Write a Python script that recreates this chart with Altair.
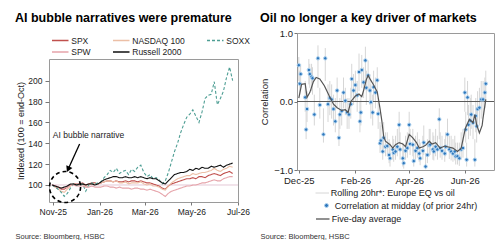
import altair as alt
import pandas as pd

FONT = "Liberation Sans"

# ---------------- Left panel data (every 4 days from 31 Oct 2025) ----------------
left_start = "2025-10-31"
series_names = ["SPX", "NASDAQ 100", "SOXX", "SPW", "Russell 2000"]
series_colors = ["#c0504d", "#ecbfa6", "#4e9e94", "#e6a4aa", "#111111"]
series_dash = [[1, 0], [1, 0], [3, 2], [1, 0], [1, 0]]

spx = [100, 99, 98, 96, 96, 98, 100, 101, 101, 101,
       102, 100, 101, 102, 102, 101, 102, 103, 104, 104,
       103, 104, 103, 103, 104, 103, 104, 104, 103, 104,
       103, 102, 102, 101, 100, 99, 97, 96, 99, 101,
       102, 103, 104, 105, 106, 106, 107, 106, 108, 108,
       107, 109, 110, 111, 110, 109, 111, 112, 113, 111]
ndx = [100, 98, 96, 94, 93, 96, 99, 101, 100, 100,
       101, 98, 100, 101, 101, 101, 102, 103, 104, 104,
       103, 104, 102, 102, 103, 101, 102, 102, 102, 103,
       101, 100, 101, 99, 99, 98, 96, 95, 99, 102,
       104, 106, 107, 108, 109, 109, 111, 110, 111, 112,
       112, 113, 114, 116, 114, 113, 115, 116, 118, 117]
soxx = [100, 98, 96, 93, 89, 92, 97, 101, 100, 99,
        101, 94, 100, 102, 101, 102, 103, 107, 110, 114,
        112, 116, 111, 113, 114, 110, 115, 113, 117, 119,
        112, 108, 110, 106, 107, 105, 101, 104, 112, 122,
        132, 140, 150, 158, 165, 168, 172, 166, 160, 170,
        183, 186, 187, 199, 177, 183, 190, 203, 213, 200]
spw = [100, 99, 98, 97, 97, 98, 100, 100, 99, 99,
       99, 98, 98, 99, 98, 98, 98, 99, 99, 98,
       98, 97, 98, 97, 97, 97, 96, 97, 97, 96,
       96, 95, 96, 95, 94, 93, 91, 89, 92, 94,
       95, 96, 97, 98, 99, 99, 100, 100, 101, 102,
       102, 103, 104, 105, 104, 104, 106, 107, 108, 108]
rty = [100, 99, 98, 97, 98, 99, 101, 101, 100, 101,
       101, 100, 101, 101, 100, 101, 103, 105, 106, 107,
       108, 108, 107, 107, 108, 107, 107, 108, 107, 108,
       107, 106, 107, 106, 106, 104, 102, 101, 104, 107,
       110, 111, 112, 112, 113, 115, 114, 116, 115, 117,
       116, 116, 118, 117, 118, 119, 117, 119, 120, 121]

left_ticks = [(2025, 11), (2026, 1), (2026, 3), (2026, 5), (2026, 7)]
left_yticks = [100, 120, 140, 160, 180, 200]

# annotation (data coordinates)
circle_date = ["2025-11-17"]
circle_value = [98.1]
arrow_dates = ["2025-12-06", "2025-11-21"]
arrow_values = [139.3, 115.1]
head_date = ["2025-11-21"]
head_value = [115.1]
note_date = ["2025-11-01"]
note_value = [144.6]
note_text = ["AI bubble narrative"]

# ---------------- Right panel data (days after 1 Dec 2025) ----------------
right_start = "2025-12-01"
dot_days = [0, 1, 2, 7, 8, 9, 11, 12, 14, 15,
            17, 21, 23, 27, 29, 32, 34, 36, 38, 40,
            42, 44, 45, 47, 49, 51, 53, 55, 57, 58,
            60, 62, 64, 66, 67, 68, 69, 71, 73, 74,
            76, 78, 79, 81, 82, 84, 86, 87, 89, 90,
            92, 93, 95, 97, 99, 100, 103, 104, 106, 108,
            110, 111, 114, 115, 117, 119, 121, 122, 125, 126,
            128, 130, 132, 133, 136, 137, 139, 141, 143, 144,
            147, 148, 150, 152, 154, 155, 157, 160, 161, 163,
            165, 167, 169, 171, 172, 174, 176, 178, 180, 182,
            183, 184, 185, 186, 188, 189, 191, 193, 194, 195,
            196, 198, 200, 202, 204, 205]
dot_vals = [0.53, 0.26, 0.40, 0.06, -0.41, -0.11, 0.46, 0.40, 0.36, 0.34,
            -0.19, 0.63, -0.05, -0.48, 0.63, -0.04, 0.05, 0.03, -0.11, -0.29,
            0.16, -0.53, -0.19, -0.14, 0.13, 0.01, -0.16, -0.19, -0.04, 0.33,
            0.16, 0.24, 0.09, 0.43, -0.29, -0.16, 0.46, 0.28, 0.60, 0.20,
            0.38, 0.16, -0.01, -0.16, 0.21, 0.13, 0.31, -0.18, -0.61, -0.57,
            -0.73, -0.53, -0.66, -0.65, -0.78, -0.83, -0.70, -0.75, -0.73, -0.66,
            -0.34, -0.70, -0.83, -0.90, -0.72, -0.68, -0.34, -0.62, -0.63, -0.87,
            -0.72, -0.68, -0.76, -0.83, -0.72, -0.60, -0.95, -0.78, -0.64, -0.63,
            -0.70, -0.73, -0.66, -0.70, -0.26, -0.68, -0.72, -0.76, -0.66, -0.48,
            -0.70, -0.73, -0.76, -0.73, -0.80, -0.80, -0.83, -0.70, -0.68, 0.13,
            -0.41, -0.85, 0.06, -0.34, -0.28, -0.19, -0.31, -0.85, -0.21, -0.36,
            -0.11, -0.09, 0.03, 0.03, 0.13, 0.26]
dot_lo = [0.30, 0.10, 0.20, -0.15, -0.55, -0.30, 0.25, 0.20, 0.15, 0.10,
          -0.35, 0.20, -0.25, -0.60, 0.30, -0.30, -0.20, -0.25, -0.35, -0.45,
          -0.10, -0.65, -0.40, -0.35, -0.10, -0.20, -0.40, -0.40, -0.25, 0.05,
          -0.05, 0.00, -0.15, 0.15, -0.45, -0.35, 0.20, 0.05, 0.30, -0.05,
          0.15, -0.05, -0.25, -0.35, 0.00, -0.10, 0.10, -0.40, -0.75, -0.70,
          -0.85, -0.70, -0.80, -0.80, -0.90, -0.95, -0.85, -0.88, -0.85, -0.80,
          -0.60, -0.85, -0.95, -0.98, -0.85, -0.82, -0.60, -0.78, -0.80, -0.95,
          -0.85, -0.82, -0.88, -0.93, -0.85, -0.78, -0.99, -0.90, -0.80, -0.78,
          -0.85, -0.86, -0.80, -0.85, -0.55, -0.82, -0.85, -0.88, -0.80, -0.68,
          -0.84, -0.86, -0.88, -0.86, -0.92, -0.92, -0.94, -0.85, -0.82, -0.15,
          -0.60, -0.95, -0.20, -0.55, -0.50, -0.40, -0.55, -0.95, -0.45, -0.60,
          -0.35, -0.35, -0.25, -0.20, -0.10, 0.00]
dot_hi = [0.65, 0.45, 0.55, 0.30, -0.10, 0.15, 0.62, 0.55, 0.55, 0.50,
          0.10, 0.82, 0.20, -0.10, 0.78, 0.25, 0.30, 0.25, 0.10, 0.05,
          0.35, -0.20, 0.05, 0.10, 0.35, 0.20, 0.05, 0.05, 0.20, 0.55,
          0.40, 0.45, 0.30, 0.70, 0.00, 0.10, 0.68, 0.50, 0.80, 0.45,
          0.60, 0.40, 0.25, 0.10, 0.45, 0.35, 0.50, 0.05, -0.30, -0.35,
          -0.50, -0.30, -0.45, -0.45, -0.55, -0.60, -0.50, -0.55, -0.50, -0.40,
          -0.15, -0.45, -0.60, -0.65, -0.50, -0.45, -0.15, -0.40, -0.40, -0.65,
          -0.50, -0.45, -0.55, -0.60, -0.50, -0.35, -0.75, -0.55, -0.40, -0.40,
          -0.45, -0.50, -0.40, -0.50, -0.10, -0.45, -0.50, -0.55, -0.45, -0.25,
          -0.50, -0.50, -0.55, -0.50, -0.60, -0.60, -0.60, -0.45, -0.40, 0.35,
          -0.15, -0.60, 0.30, -0.05, 0.05, 0.10, -0.05, -0.55, 0.05, -0.10,
          0.15, 0.20, 0.30, 0.30, 0.35, 0.45]
avg_days = [0, 3, 7, 9, 12, 16, 19, 23, 28, 33,
            38, 42, 47, 51, 54, 57, 59, 62, 66, 69,
            71, 74, 76, 78, 82, 86, 89, 91, 93, 95,
            100, 103, 106, 110, 114, 117, 121, 125, 129, 132,
            136, 139, 143, 146, 150, 155, 160, 163, 169, 174,
            178, 182, 183, 187, 191, 193, 195, 198, 201, 202,
            205]
avg_vals = [0.05, 0.25, 0.26, 0.06, 0.13, 0.29, 0.35, 0.33, 0.23, 0.09,
            -0.04, -0.09, -0.13, -0.12, -0.16, 0.00, 0.03, 0.08, 0.11, 0.07,
            0.16, 0.32, 0.38, 0.33, 0.24, 0.14, -0.10, -0.28, -0.51, -0.58,
            -0.63, -0.68, -0.63, -0.60, -0.62, -0.66, -0.48, -0.53, -0.60, -0.68,
            -0.66, -0.64, -0.58, -0.62, -0.60, -0.68, -0.65, -0.66, -0.68, -0.73,
            -0.68, -0.43, -0.38, -0.26, -0.31, -0.19, -0.34, -0.46, -0.35, -0.24,
            0.03]
roll_label = "Rolling 20hr*: Europe EQ vs oil"
dot_label = "Correlation at midday (of prior 24hr)"
avg_label = "Five-day average"
right_ticks = [(2025, 12), (2026, 2), (2026, 4), (2026, 6)]
right_yticks = [-1.0, -0.5, 0.0, 0.5, 1.0]

source_text = "Source: Bloomberg, HSBC"
left_title = "AI bubble narratives were premature"
right_title = "Oil no longer a key driver of markets"

# ---------------- build frames ----------------
left_dates = pd.date_range(left_start, periods=len(spx), freq="4D")
left_df = pd.DataFrame({
    "date": list(left_dates) * len(series_names),
    "value": spx + ndx + soxx + spw + rty,
    "series": sum([[n] * len(spx) for n in series_names], []),
})

r0 = pd.Timestamp(right_start)
dots_df = pd.DataFrame({
    "date": r0 + pd.to_timedelta(dot_days, unit="D"),
    "value": dot_vals,
    "lo": dot_lo,
    "hi": dot_hi,
    "s_roll": roll_label,
    "s_dot": dot_label,
})
avg_df = pd.DataFrame({
    "date": r0 + pd.to_timedelta(avg_days, unit="D"),
    "value": avg_vals,
    "s_avg": avg_label,
})


def dt(y, m, d=1):
    return alt.DateTime(year=y, month=m, date=d)


title_common = dict(anchor="start", frame="group", fontSize=12.5, offset=-6,
                    fontWeight="bold", font=FONT, color="#000000", baseline="alphabetic")
source_axis = dict(titleAlign="left", titleAnchor="start", titleBaseline="alphabetic",
                   titleFontSize=7.5, titleFontWeight="normal", titleColor="#333333",
                   titleAngle=0)

# ---------------- Left panel ----------------
lx = alt.X("date:T", title=source_text,
           scale=alt.Scale(domain=[dt(2025, 10, 27), dt(2026, 7, 1)]),
           axis=alt.Axis(values=[dt(y, m) for y, m in left_ticks], format="%b-%y",
                         labelFontSize=8.5, tickSize=3, labelPadding=2, labelFlush=False,
                         labelOverlap=False, titleX=-34, titleY=36, **source_axis))
ly = alt.Y("value:Q", title="Indexed (100 = end-Oct)",
           scale=alt.Scale(domain=[83.7, 220.8], nice=False, zero=False),
           axis=alt.Axis(values=left_yticks, labelFontSize=8.5, tickSize=4, labelPadding=3,
                         titleFontSize=9, titleFontWeight="normal", titlePadding=2))

left_legend = alt.Legend(orient="none", legendX=4.75, legendY=1, columns=3, title=None,
                         direction="horizontal", gridAlign="each",
                         symbolType="M-1.5,0H1.5", symbolSize=121, symbolStrokeWidth=1.3,
                         labelFontSize=8.5, labelFont=FONT, labelColor="#222222",
                         labelOffset=4.5, columnPadding=19, rowPadding=0.5, padding=0)

base_line = alt.Chart(pd.DataFrame({"value": [100]})).mark_rule(
    color="#e4c8d6", strokeWidth=1).encode(y=ly)

lines = alt.Chart(left_df).mark_line(strokeWidth=1.1).encode(
    x=lx, y=ly,
    color=alt.Color("series:N", scale=alt.Scale(domain=series_names, range=series_colors),
                    legend=left_legend),
    strokeDash=alt.StrokeDash("series:N", scale=alt.Scale(domain=series_names, range=series_dash),
                              legend=left_legend),
)

circle = alt.Chart(pd.DataFrame({"date": circle_date, "value": circle_value})).mark_point(
    shape="circle", size=961, filled=False, stroke="#000000", strokeWidth=1.6,
    strokeDash=[4, 3], opacity=1).encode(x=lx, y=ly)
arrow = alt.Chart(pd.DataFrame({"date": arrow_dates, "value": arrow_values})).mark_line(
    color="#000000", strokeWidth=1.3).encode(x=lx, y=ly)
head = alt.Chart(pd.DataFrame({"date": head_date, "value": head_value})).mark_point(
    shape="triangle-down", angle=25, size=45, filled=True, color="#000000", opacity=1
).encode(x=lx, y=ly)
note = alt.Chart(pd.DataFrame({"date": note_date, "value": note_value, "t": note_text})).mark_text(
    align="left", baseline="alphabetic", fontSize=8.5, font=FONT, color="#222222"
).encode(x=lx, y=ly, text="t:N")

left_main = alt.layer(base_line, lines, circle, arrow, head, note).properties(width=189, height=143)

spacer = alt.Chart(pd.DataFrame({"v": [0]})).mark_point(opacity=0).encode(
    x=alt.X("v:Q", axis=None), y=alt.Y("v:Q", axis=None)
).properties(width=189, height=26, view=alt.ViewBackground(stroke=None),
             title=alt.TitleParams(left_title, dx=-34, dy=-5, **title_common))

left = alt.vconcat(spacer, left_main, spacing=0, bounds="flush")

# ---------------- Right panel ----------------
rx = alt.X("date:T", title=source_text,
           scale=alt.Scale(domain=[dt(2025, 11, 29), dt(2026, 7, 3)]),
           axis=alt.Axis(values=[dt(y, m) for y, m in right_ticks], format="%b-%y",
                         labelFontSize=9.5, tickSize=3, labelPadding=2, labelFlush=False,
                         labelOverlap=False, titleX=-37, titleY=68, **source_axis))
ry_scale = alt.Scale(domain=[-1, 1], nice=False, zero=False)
ry_axis = alt.Axis(values=right_yticks, format=".1f", labelFontSize=9.5, tickSize=3,
                   labelPadding=1.5, titleFontSize=9.5, titleFontWeight="normal", titlePadding=4)


def leg(x, y, stype, size, sw, offset):
    return alt.Legend(orient="none", legendX=x, legendY=y, title=None, symbolType=stype,
                      symbolSize=size, symbolStrokeWidth=sw, labelFontSize=9, labelFont=FONT,
                      labelColor="#222222", labelOffset=offset, padding=0)


rules = alt.Chart(dots_df).mark_rule(strokeWidth=1).encode(
    x=rx,
    y=alt.Y("lo:Q", title="Correlation", scale=ry_scale, axis=ry_axis),
    y2="hi:Q",
    color=alt.Color("s_roll:N", scale=alt.Scale(domain=[roll_label], range=["#d6d6d6"]),
                    legend=leg(20.25, 155, "M-1.5,0H1.5", 81, 1, 3.5)),
)
zero = alt.Chart(pd.DataFrame({"value": [0]})).mark_rule(color="#5a5a5a", strokeWidth=1).encode(
    y=alt.Y("value:Q", title="Correlation", scale=ry_scale))
dots = alt.Chart(dots_df).mark_point(filled=True, size=12, stroke="#b3d5f0", strokeWidth=1,
                                     opacity=1).encode(
    x=rx,
    y=alt.Y("value:Q", title="Correlation", scale=ry_scale),
    color=alt.Color("s_dot:N", scale=alt.Scale(domain=[dot_label], range=["#2f78bd"]),
                    legend=alt.Legend(orient="none", legendX=25, legendY=168, title=None,
                                      symbolType="circle", symbolSize=16,
                                      symbolStrokeColor="#b3d5f0", symbolStrokeWidth=1,
                                      labelFontSize=9, labelFont=FONT, labelColor="#222222",
                                      labelOffset=3.8, padding=0)),
)
avg = alt.Chart(avg_df).mark_line(strokeWidth=1.2).encode(
    x=rx,
    y=alt.Y("value:Q", title="Correlation", scale=ry_scale),
    color=alt.Color("s_avg:N", scale=alt.Scale(domain=[avg_label], range=["#555555"]),
                    legend=leg(20.25, 180.5, "M-1.5,0H1.5", 81, 1.3, 3.5)),
)

right = alt.layer(rules, zero, dots, avg).resolve_scale(color="independent").properties(
    width=197, height=137,
    title=alt.TitleParams(right_title, dx=-37, **title_common))

chart = alt.hconcat(left, right, spacing=8).properties(
    padding={"left": 14, "top": 11, "right": 0, "bottom": 0}
).configure(font=FONT, background="white").configure_view(
    stroke="#9a9a9a", strokeWidth=1
).configure_axis(
    domain=False, grid=False, tickColor="#777777", labelColor="#222222",
    titleColor="#222222", labelFont=FONT, titleFont=FONT
)

chart.save("out.html", embed_options={"renderer": "svg", "actions": False})
